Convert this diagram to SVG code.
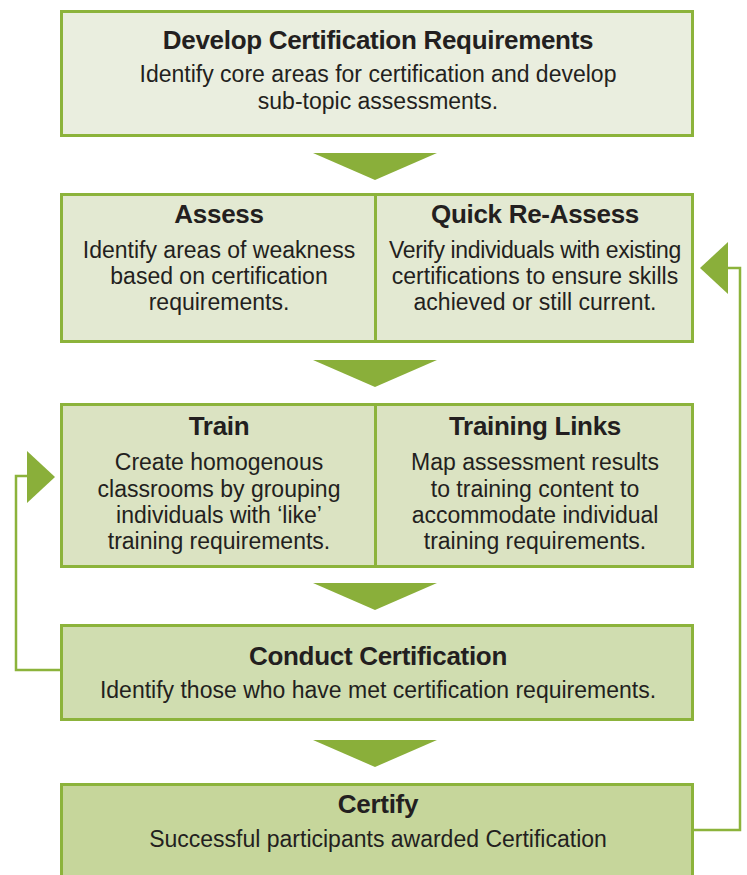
<svg xmlns="http://www.w3.org/2000/svg" width="747" height="875" viewBox="0 0 747 875">
<style>
.box{stroke:#8cb33b;stroke-width:3}
.div{stroke:#8cb33b;stroke-width:3}
.tri{fill:#8aaf3a}
.link{fill:none;stroke:#8cb33b;stroke-width:2.5}
.t{font-family:"Liberation Sans",Arial,sans-serif;font-weight:bold;font-size:26px;fill:#231f20;text-anchor:middle;letter-spacing:-0.3px}
.b{font-family:"Liberation Sans",Arial,sans-serif;font-size:23px;fill:#231f20;text-anchor:middle}
</style>
<rect width="747" height="875" fill="#ffffff"/>
<g id="connectors">
<polygon class="tri" points="313,153 437,153 375,180"/>
<polygon class="tri" points="313,360 437,360 375,387"/>
<polygon class="tri" points="313,583 437,583 375,610"/>
<polygon class="tri" points="313,740 437,740 375,767"/>
<polyline class="link" points="61,670 16,670 16,476 28,476"/>
<polygon class="tri" points="27,451 27,503 55,477"/>
<polyline class="link" points="693,830 740,830 740,268 727,268"/>
<polygon class="tri" points="728,242 728,294 700,268"/>
</g>
<g id="develop">
<rect class="box" x="61.5" y="11.5" width="631" height="124" fill="#eaeedf"/>
<text class="t" x="378" y="49">Develop Certification Requirements</text>
<text class="b" x="378" y="82">Identify core areas for certification and develop</text>
<text class="b" x="378" y="109">sub-topic assessments.</text>
</g>
<g id="assess">
<rect class="box" x="61.5" y="194.5" width="631" height="147" fill="#e3e9d2"/>
<line class="div" x1="375.5" y1="194" x2="375.5" y2="342"/>
<text class="t" x="219" y="223">Assess</text>
<text class="b" x="219" y="258">Identify areas of weakness</text>
<text class="b" x="219" y="284">based on certification</text>
<text class="b" x="219" y="310">requirements.</text>
<text class="t" x="535" y="223">Quick Re-Assess</text>
<text class="b" x="535" y="258" style="letter-spacing:-0.35px">Verify individuals with existing</text>
<text class="b" x="535" y="284">certifications to ensure skills</text>
<text class="b" x="535" y="310">achieved or still current.</text>
</g>
<g id="train">
<rect class="box" x="61.5" y="404.5" width="631" height="162" fill="#dbe3c2"/>
<line class="div" x1="375.5" y1="404" x2="375.5" y2="567"/>
<text class="t" x="219" y="435">Train</text>
<text class="b" x="219" y="470">Create homogenous</text>
<text class="b" x="219" y="497">classrooms by grouping</text>
<text class="b" x="219" y="523">individuals with ‘like’</text>
<text class="b" x="219" y="549">training requirements.</text>
<text class="t" x="535" y="435">Training Links</text>
<text class="b" x="535" y="470">Map assessment results</text>
<text class="b" x="535" y="497">to training content to</text>
<text class="b" x="535" y="523">accommodate individual</text>
<text class="b" x="535" y="549">training requirements.</text>
</g>
<g id="conduct">
<rect class="box" x="61.5" y="625.5" width="631" height="94" fill="#d0ddb0"/>
<text class="t" x="378" y="665">Conduct Certification</text>
<text class="b" x="378" y="698">Identify those who have met certification requirements.</text>
</g>
<g id="certify">
<rect class="box" x="61.5" y="784.5" width="631" height="100" fill="#c6d69b"/>
<text class="t" x="378" y="813">Certify</text>
<text class="b" x="378" y="847">Successful participants awarded Certification</text>
</g>
</svg>
